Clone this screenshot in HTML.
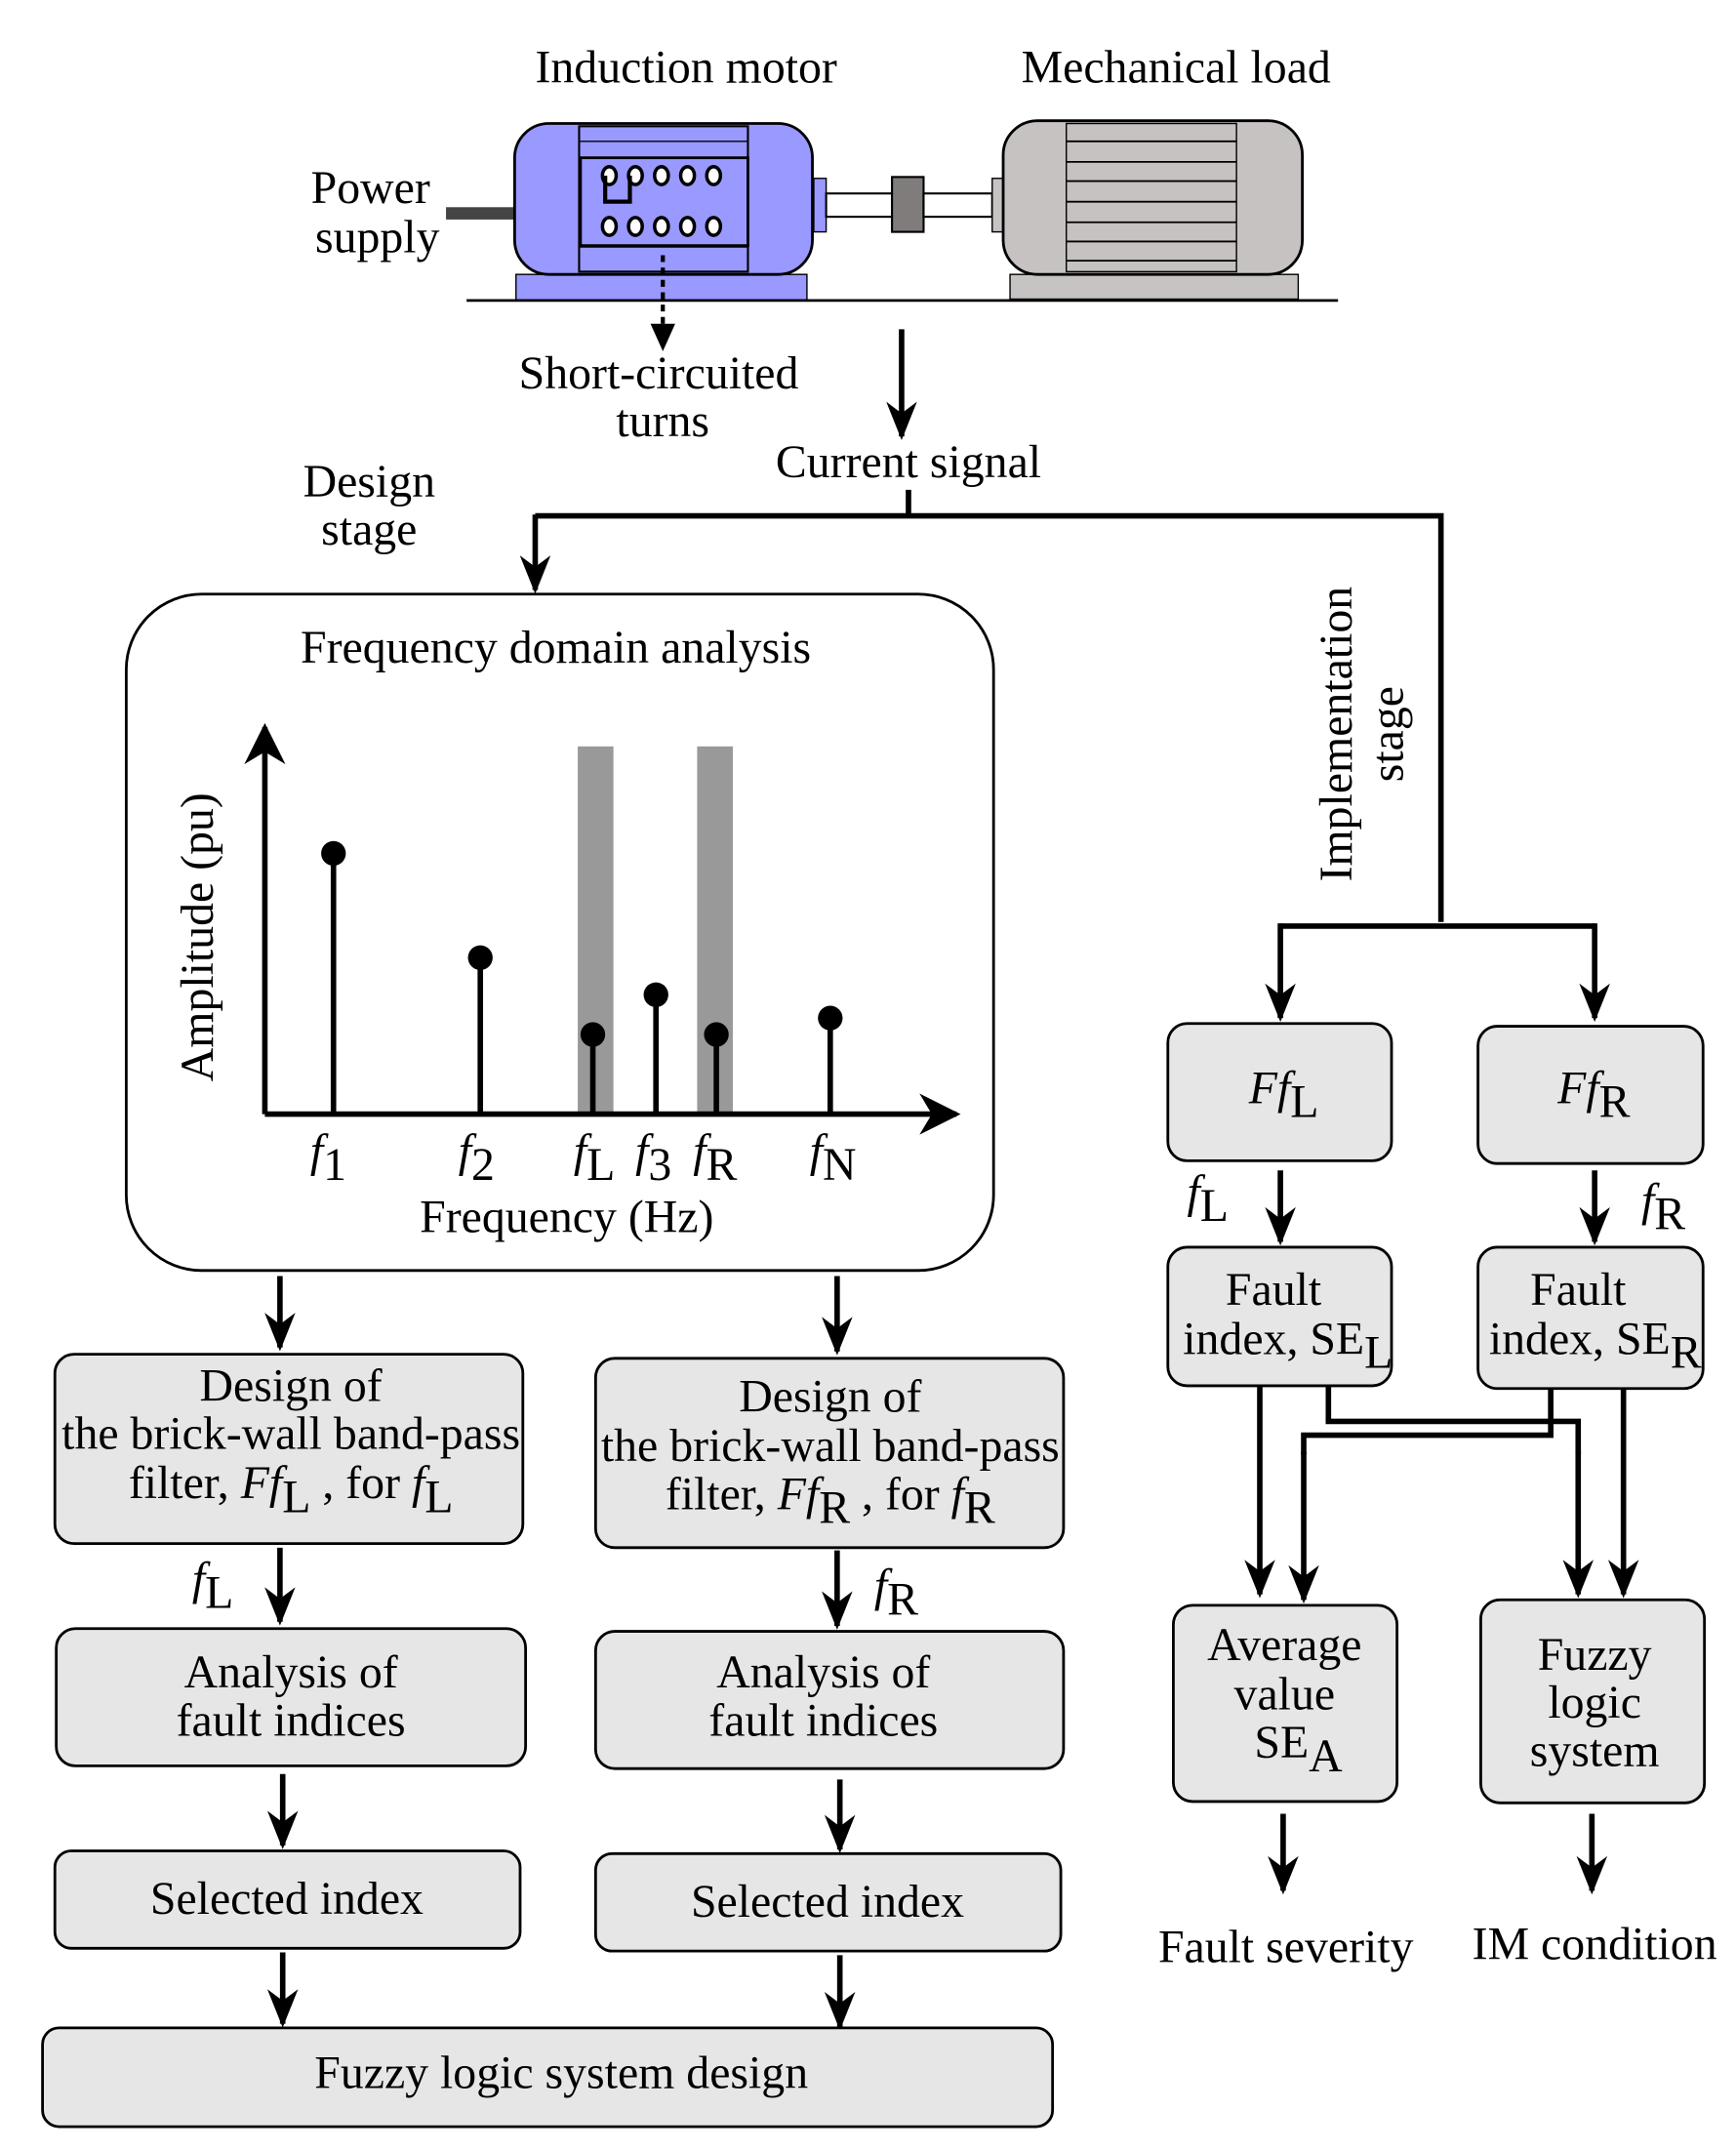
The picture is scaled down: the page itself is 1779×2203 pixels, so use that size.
<!DOCTYPE html>
<html><head><meta charset="utf-8"><style>
html,body{margin:0;padding:0;background:#fff}
svg{display:block}
text{font-family:"Liberation Serif",serif;font-size:34px;fill:#000}
.b{fill:#e6e6e6;stroke:#000;stroke-width:2}
.l{stroke:#000;stroke-width:4;fill:none}
</style></head><body>
<svg width="1779" height="2203" viewBox="0 0 1265 1567" preserveAspectRatio="none" xmlns="http://www.w3.org/2000/svg">
<defs>
<marker id="h" viewBox="0 0 10 10" refX="9" refY="5" markerWidth="30" markerHeight="30" markerUnits="userSpaceOnUse" orient="auto"><path d="M0,0 L10,5 L0,10 L3,5z" fill="#000"/></marker>
<marker id="v" viewBox="0 0 10 10" refX="9" refY="5" markerWidth="28" markerHeight="28" markerUnits="userSpaceOnUse" orient="auto"><path d="M0,1 L10,5 L0,9 L3,5z" fill="#000"/></marker></defs>
<text x="500" y="60" text-anchor="middle">Induction motor</text>
<text x="857" y="60" text-anchor="middle">Mechanical load</text>
<text x="270" y="148" text-anchor="middle">Power</text>
<text x="275" y="184" text-anchor="middle">supply</text>
<rect x="325" y="151" width="52" height="9" fill="#444"/>
<rect x="376" y="200" width="212" height="19" fill="#9999ff" stroke="#000" stroke-width="1"/>
<rect x="375" y="90" width="217" height="110" rx="25" fill="#9999ff" stroke="#000" stroke-width="2"/>
<rect x="422" y="92" width="123" height="106" fill="#9999ff" stroke="#000" stroke-width="1.5"/>
<line x1="422" y1="103" x2="545" y2="103" stroke="#000"/><line x1="422" y1="180" x2="545" y2="180" stroke="#000"/>
<rect x="423" y="115" width="122" height="64" fill="#9999ff" stroke="#000" stroke-width="2"/>
<g fill="#fff" stroke="#000" stroke-width="2.5">
<ellipse cx="444" cy="128" rx="5" ry="6.5"/><ellipse cx="463" cy="128" rx="5" ry="6.5"/><ellipse cx="482" cy="128" rx="5" ry="6.5"/><ellipse cx="501" cy="128" rx="5" ry="6.5"/><ellipse cx="520" cy="128" rx="5" ry="6.5"/>
<ellipse cx="444" cy="165" rx="5" ry="6.5"/><ellipse cx="463" cy="165" rx="5" ry="6.5"/><ellipse cx="482" cy="165" rx="5" ry="6.5"/><ellipse cx="501" cy="165" rx="5" ry="6.5"/><ellipse cx="520" cy="165" rx="5" ry="6.5"/></g>
<path d="M441,128 V147 H459 V128" stroke="#000" stroke-width="3" fill="none"/>
<rect x="593" y="130" width="9" height="39" fill="#9999ff" stroke="#000"/>
<rect x="602" y="141" width="48" height="17" fill="#fff" stroke="#000" stroke-width="1.5"/>
<rect x="650" y="129" width="23" height="40" fill="#807c7c" stroke="#000" stroke-width="1.5"/>
<rect x="673" y="141" width="50" height="17" fill="#fff" stroke="#000" stroke-width="1.5"/>
<rect x="723" y="130" width="9" height="39" fill="#c8c3c3" stroke="#000"/>
<rect x="736" y="200" width="210" height="18" fill="#c8c3c3" stroke="#000" stroke-width="1"/>
<rect x="731" y="88" width="218" height="112" rx="25" fill="#c6c2c2" stroke="#000" stroke-width="2"/>
<rect x="777" y="90" width="124" height="108" fill="#c6c2c2" stroke="#000" stroke-width="1"/>
<g stroke="#000" stroke-width="1.3"><line x1="777" y1="103" x2="901" y2="103"/><line x1="777" y1="118" x2="901" y2="118"/><line x1="777" y1="132" x2="901" y2="132"/><line x1="777" y1="147" x2="901" y2="147"/><line x1="777" y1="162" x2="901" y2="162"/><line x1="777" y1="176" x2="901" y2="176"/><line x1="777" y1="190" x2="901" y2="190"/></g>
<line x1="340" y1="219" x2="975" y2="219" stroke="#000" stroke-width="2"/>
<line x1="483" y1="186" x2="483" y2="240" stroke="#000" stroke-width="3" stroke-dasharray="5,4"/>
<path d="M474,236 L492,236 L483,256z"/>
<text x="480" y="283" text-anchor="middle">Short-circuited</text>
<text x="483" y="318" text-anchor="middle">turns</text>
<line x1="657" y1="240" x2="657" y2="318" class="l" marker-end="url(#v)"/>
<text x="662" y="348" text-anchor="middle">Current signal</text>
<text x="269" y="362" text-anchor="middle">Design</text>
<text x="269" y="397" text-anchor="middle">stage</text>
<path d="M662,357 V376 M390,376 H1050 V672 M933,675 H1162" class="l"/>
<line x1="390" y1="375" x2="390" y2="430" class="l" marker-end="url(#v)"/>
<line x1="933" y1="673" x2="933" y2="742" class="l" marker-end="url(#v)"/>
<line x1="1162" y1="673" x2="1162" y2="742" class="l" marker-end="url(#v)"/>
<text transform="translate(985,535) rotate(-90)" text-anchor="middle">Implementation</text>
<text transform="translate(1022,535) rotate(-90)" text-anchor="middle">stage</text>
<rect x="92" y="433" width="632" height="493" rx="55" fill="#fff" stroke="#000" stroke-width="2"/>
<text x="405" y="483" text-anchor="middle">Frequency domain analysis</text>
<rect x="421" y="544" width="26" height="268" fill="#999"/>
<rect x="508" y="544" width="26" height="268" fill="#999"/>
<line x1="193" y1="812" x2="193" y2="530" class="l" marker-end="url(#h)"/>
<line x1="193" y1="812" x2="697" y2="812" class="l" marker-end="url(#h)"/>
<g stroke="#000" stroke-width="4"><line x1="243" y1="812" x2="243" y2="622"/><line x1="350" y1="812" x2="350" y2="698"/><line x1="432" y1="812" x2="432" y2="754"/><line x1="478" y1="812" x2="478" y2="725"/><line x1="522" y1="812" x2="522" y2="754"/><line x1="605" y1="812" x2="605" y2="742"/></g>
<g><circle cx="243" cy="622" r="9"/><circle cx="350" cy="698" r="9"/><circle cx="432" cy="754" r="9"/><circle cx="478" cy="725" r="9"/><circle cx="522" cy="754" r="9"/><circle cx="605" cy="742" r="9"/></g>
<g font-style="italic"><text x="226" y="850">f<tspan font-style="normal" dy="10">1</tspan></text><text x="334" y="850">f<tspan font-style="normal" dy="10">2</tspan></text><text x="418" y="850">f<tspan font-style="normal" dy="10">L</tspan></text><text x="463" y="850">f<tspan font-style="normal" dy="10">3</tspan></text><text x="505" y="850">f<tspan font-style="normal" dy="10">R</tspan></text><text x="590" y="850">f<tspan font-style="normal" dy="10">N</tspan></text></g>
<text x="413" y="898" text-anchor="middle">Frequency (Hz)</text>
<text transform="translate(155,683) rotate(-90)" text-anchor="middle">Amplitude (pu)</text>
<line x1="204" y1="930" x2="204" y2="982" class="l" marker-end="url(#v)"/>
<line x1="610" y1="930" x2="610" y2="985" class="l" marker-end="url(#v)"/>
<rect class="b" x="40" y="987" width="341" height="138" rx="14"/>
<text x="212" y="1021" text-anchor="middle">Design of</text>
<text x="212" y="1056" text-anchor="middle">the brick-wall band-pass</text>
<text x="212" y="1092" text-anchor="middle">filter, <tspan font-style="italic">Ff</tspan><tspan dy="10">L</tspan><tspan dy="-10"> , for </tspan><tspan font-style="italic">f</tspan><tspan dy="10">L</tspan></text>
<rect class="b" x="434" y="990" width="341" height="138" rx="14"/>
<text x="605" y="1029" text-anchor="middle">Design of</text>
<text x="605" y="1065" text-anchor="middle">the brick-wall band-pass</text>
<text x="605" y="1100" text-anchor="middle">filter, <tspan font-style="italic">Ff</tspan><tspan dy="10">R</tspan><tspan dy="-10"> , for </tspan><tspan font-style="italic">f</tspan><tspan dy="10">R</tspan></text>
<line x1="204" y1="1128" x2="204" y2="1182" class="l" marker-end="url(#v)"/>
<text x="140" y="1162" font-style="italic">f<tspan font-style="normal" dy="10">L</tspan></text>
<line x1="610" y1="1130" x2="610" y2="1185" class="l" marker-end="url(#v)"/>
<text x="637" y="1167" font-style="italic">f<tspan font-style="normal" dy="10">R</tspan></text>
<rect class="b" x="41" y="1187" width="342" height="100" rx="14"/>
<text x="212" y="1230" text-anchor="middle">Analysis of</text><text x="212" y="1265" text-anchor="middle">fault indices</text>
<rect class="b" x="434" y="1189" width="341" height="100" rx="14"/>
<text x="600" y="1230" text-anchor="middle">Analysis of</text><text x="600" y="1265" text-anchor="middle">fault indices</text>
<line x1="206" y1="1293" x2="206" y2="1345" class="l" marker-end="url(#v)"/>
<line x1="612" y1="1297" x2="612" y2="1348" class="l" marker-end="url(#v)"/>
<rect class="b" x="40" y="1349" width="339" height="71" rx="12"/>
<text x="209" y="1395" text-anchor="middle">Selected index</text>
<rect class="b" x="434" y="1351" width="339" height="71" rx="12"/>
<text x="603" y="1397" text-anchor="middle">Selected index</text>
<line x1="206" y1="1423" x2="206" y2="1475" class="l" marker-end="url(#v)"/>
<line x1="612" y1="1425" x2="612" y2="1477" class="l" marker-end="url(#v)"/>
<rect class="b" x="31" y="1478" width="736" height="72" rx="12"/>
<text x="409" y="1522" text-anchor="middle">Fuzzy logic system design</text>
<rect class="b" x="851" y="746" width="163" height="100" rx="14"/>
<text x="910" y="804" font-style="italic">Ff<tspan font-style="normal" dy="10">L</tspan></text>
<rect class="b" x="1077" y="748" width="164" height="100" rx="14"/>
<text x="1135" y="804" font-style="italic">Ff<tspan font-style="normal" dy="10">R</tspan></text>
<line x1="933" y1="853" x2="933" y2="905" class="l" marker-end="url(#v)"/>
<text x="865" y="880" font-style="italic">f<tspan font-style="normal" dy="10">L</tspan></text>
<line x1="1162" y1="853" x2="1162" y2="905" class="l" marker-end="url(#v)"/>
<text x="1196" y="886" font-style="italic">f<tspan font-style="normal" dy="10">R</tspan></text>
<rect class="b" x="851" y="909" width="163" height="101" rx="14"/>
<text x="928" y="951" text-anchor="middle">Fault</text>
<text x="862" y="987">index, SE<tspan dy="10">L</tspan></text>
<rect class="b" x="1077" y="909" width="164" height="103" rx="14"/>
<text x="1150" y="951" text-anchor="middle">Fault</text>
<text x="1085" y="987">index, SE<tspan dy="10">R</tspan></text>
<line x1="918" y1="1010" x2="918" y2="1162" class="l" marker-end="url(#v)"/>
<path d="M968,1010 V1036 H1150 V1060" class="l"/>
<line x1="1150" y1="1058" x2="1150" y2="1162" class="l" marker-end="url(#v)"/>
<path d="M1130,1012 V1046 H950 V1060" class="l"/>
<line x1="950" y1="1058" x2="950" y2="1166" class="l" marker-end="url(#v)"/>
<line x1="1183" y1="1012" x2="1183" y2="1162" class="l" marker-end="url(#v)"/>
<rect class="b" x="855" y="1170" width="163" height="143" rx="14"/>
<text x="936" y="1210" text-anchor="middle">Average</text>
<text x="936" y="1246" text-anchor="middle">value</text>
<text x="914" y="1281">SE<tspan dy="10">A</tspan></text>
<rect class="b" x="1079" y="1166" width="163" height="148" rx="14"/>
<text x="1162" y="1217" text-anchor="middle">Fuzzy</text>
<text x="1162" y="1252" text-anchor="middle">logic</text>
<text x="1162" y="1287" text-anchor="middle">system</text>
<line x1="935" y1="1322" x2="935" y2="1378" class="l" marker-end="url(#v)"/>
<line x1="1160" y1="1322" x2="1160" y2="1378" class="l" marker-end="url(#v)"/>
<text x="937" y="1430" text-anchor="middle">Fault severity</text>
<text x="1162" y="1428" text-anchor="middle">IM condition</text>
</svg>
</body></html>
